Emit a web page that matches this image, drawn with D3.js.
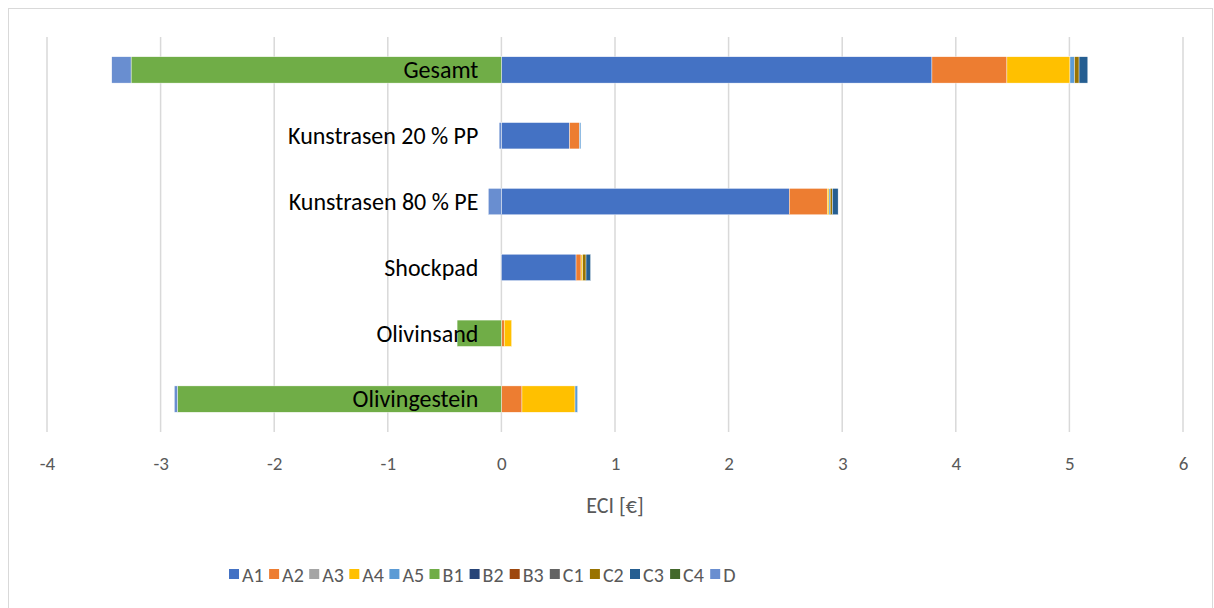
<!DOCTYPE html>
<html>
<head>
<meta charset="utf-8">
<script src="https://cdn.jsdelivr.net/npm/d3@7"></script>
<style>
  body { margin: 0; background: #fff; }
  svg { display: block; font-family: Carlito, Lato, "Liberation Sans", sans-serif; }
</style>
</head>
<body>
<svg id="chart" width="1214" height="608"></svg>
<script>
// categories top to bottom
const categories = ["Gesamt", "Kunstrasen 20 % PP", "Kunstrasen 80 % PE", "Shockpad", "Olivinsand", "Olivingestein"]
const seriesNames = ["A1", "A2", "A3", "A4", "A5", "B1", "B2", "B3", "C1", "C2", "C3", "C4", "D"]
const seriesColors = ["#4472C4", "#ED7D31", "#A5A5A5", "#FFC000", "#5B9BD5", "#70AD47", "#264478", "#9E480E", "#636363", "#997300", "#255E91", "#43682B", "#698ED0"]

// values per series, in category order
const A1 = [3.79, 0.60, 2.534, 0.657, 0, 0]
const A2 = [0.66, 0.088, 0.335, 0.044, 0.025, 0.181]
const A3 = [0, 0, 0, 0, 0, 0]
const A4 = [0.555, 0, 0.015, 0.015, 0.065, 0.467]
const A5 = [0.04, 0.012, 0.01, 0, 0, 0.023]
const B1 = [-3.26, 0, 0, 0, -0.39, -2.853]
const B2 = [0, 0, 0, 0, 0, 0]
const B3 = [0, 0, 0, 0, 0, 0]
const C1 = [0, 0, 0, 0, 0, 0]
const C2 = [0.04, 0, 0.02, 0.029, 0, 0]
const C3 = [0.077, 0, 0.05, 0.04, 0, 0]
const C4 = [0, 0, 0, 0, 0, 0]
const D = [-0.17, -0.02, -0.115, 0, 0, -0.026]
const seriesValues = [A1, A2, A3, A4, A5, B1, B2, B3, C1, C2, C3, C4, D]

const xTicks = [-4, -3, -2, -1, 0, 1, 2, 3, 4, 5, 6]

const svg = d3.select("#chart")
const plot = {left: 47, right: 1183, top: 37, bottom: 432}

svg.append("rect")
  .attr("x", 8.5).attr("y", 8.5)
  .attr("width", 1204).attr("height", 600)
  .attr("fill", "#fff")
  .attr("stroke", "#d9d9d9")

const x = d3.scaleLinear().domain([-4, 6]).range([plot.left, plot.right])
const y = d3.scaleBand().domain(categories).range([plot.top, plot.bottom]).paddingInner(0.6).paddingOuter(0.3)

// gridlines
svg.append("g")
  .selectAll("line")
  .data(xTicks)
  .join("line")
  .attr("x1", d => x(d)).attr("x2", d => x(d))
  .attr("y1", plot.top).attr("y2", plot.bottom)
  .attr("stroke", "#d9d9d9")
  .attr("stroke-width", 1.5)

// stacking: positives outward from 0, negatives outward from 0, in series order
const segments = []
categories.forEach((cat, ci) => {
  let pos = 0, neg = 0
  seriesValues.forEach((vals, si) => {
    const v = vals[ci]
    if (!v) return
    if (v > 0) {
      segments.push({cat, si, x0: pos, x1: pos + v})
      pos += v
    } else {
      segments.push({cat, si, x0: neg + v, x1: neg})
      neg += v
    }
  })
})

svg.append("g")
  .selectAll("rect")
  .data(segments)
  .join("rect")
  .attr("x", d => x(d.x0))
  .attr("width", d => x(d.x1) - x(d.x0))
  .attr("y", d => y(d.cat))
  .attr("height", y.bandwidth())
  .attr("fill", d => seriesColors[d.si])
  .attr("stroke", "#fff")
  .attr("stroke-width", 0.4)

// category labels next to the 0 axis
svg.append("g")
  .selectAll("text")
  .data(categories)
  .join("text")
  .attr("x", x(0) - 23)
  .attr("y", d => y(d) + y.bandwidth() / 2)
  .attr("dy", "0.35em")
  .attr("text-anchor", "end")
  .attr("font-size", 24)
  .attr("fill", "#000")
  .text(d => d)

// x axis tick labels (plain hyphen minus like the original)
const axis = svg.append("g")
  .attr("transform", `translate(0,${plot.bottom})`)
  .call(d3.axisBottom(x).tickValues(xTicks).tickFormat(d => String(d)).tickSize(0).tickPadding(25))
axis.select(".domain").remove()
axis.selectAll("text")
  .attr("font-size", 19)
  .attr("fill", "#595959")
  .style("font-family", "Carlito, Lato, 'Liberation Sans', sans-serif")

svg.append("text")
  .attr("x", (plot.left + plot.right) / 2)
  .attr("y", 513)
  .attr("text-anchor", "middle")
  .attr("font-size", 22)
  .attr("fill", "#595959")
  .text("ECI [€]")

// legend
const legend = svg.append("g")
  .selectAll("g")
  .data(seriesNames)
  .join("g")
  .attr("transform", (d, i) => `translate(${229 + i * 40.1},569)`)
legend.append("rect")
  .attr("width", 10).attr("height", 10)
  .attr("fill", (d, i) => seriesColors[i])
legend.append("text")
  .attr("x", 13).attr("y", 12.5)
  .attr("font-size", 20)
  .style("font-size", "20px")
  .attr("fill", "#595959")
  .text(d => d)
</script>
</body>
</html>
